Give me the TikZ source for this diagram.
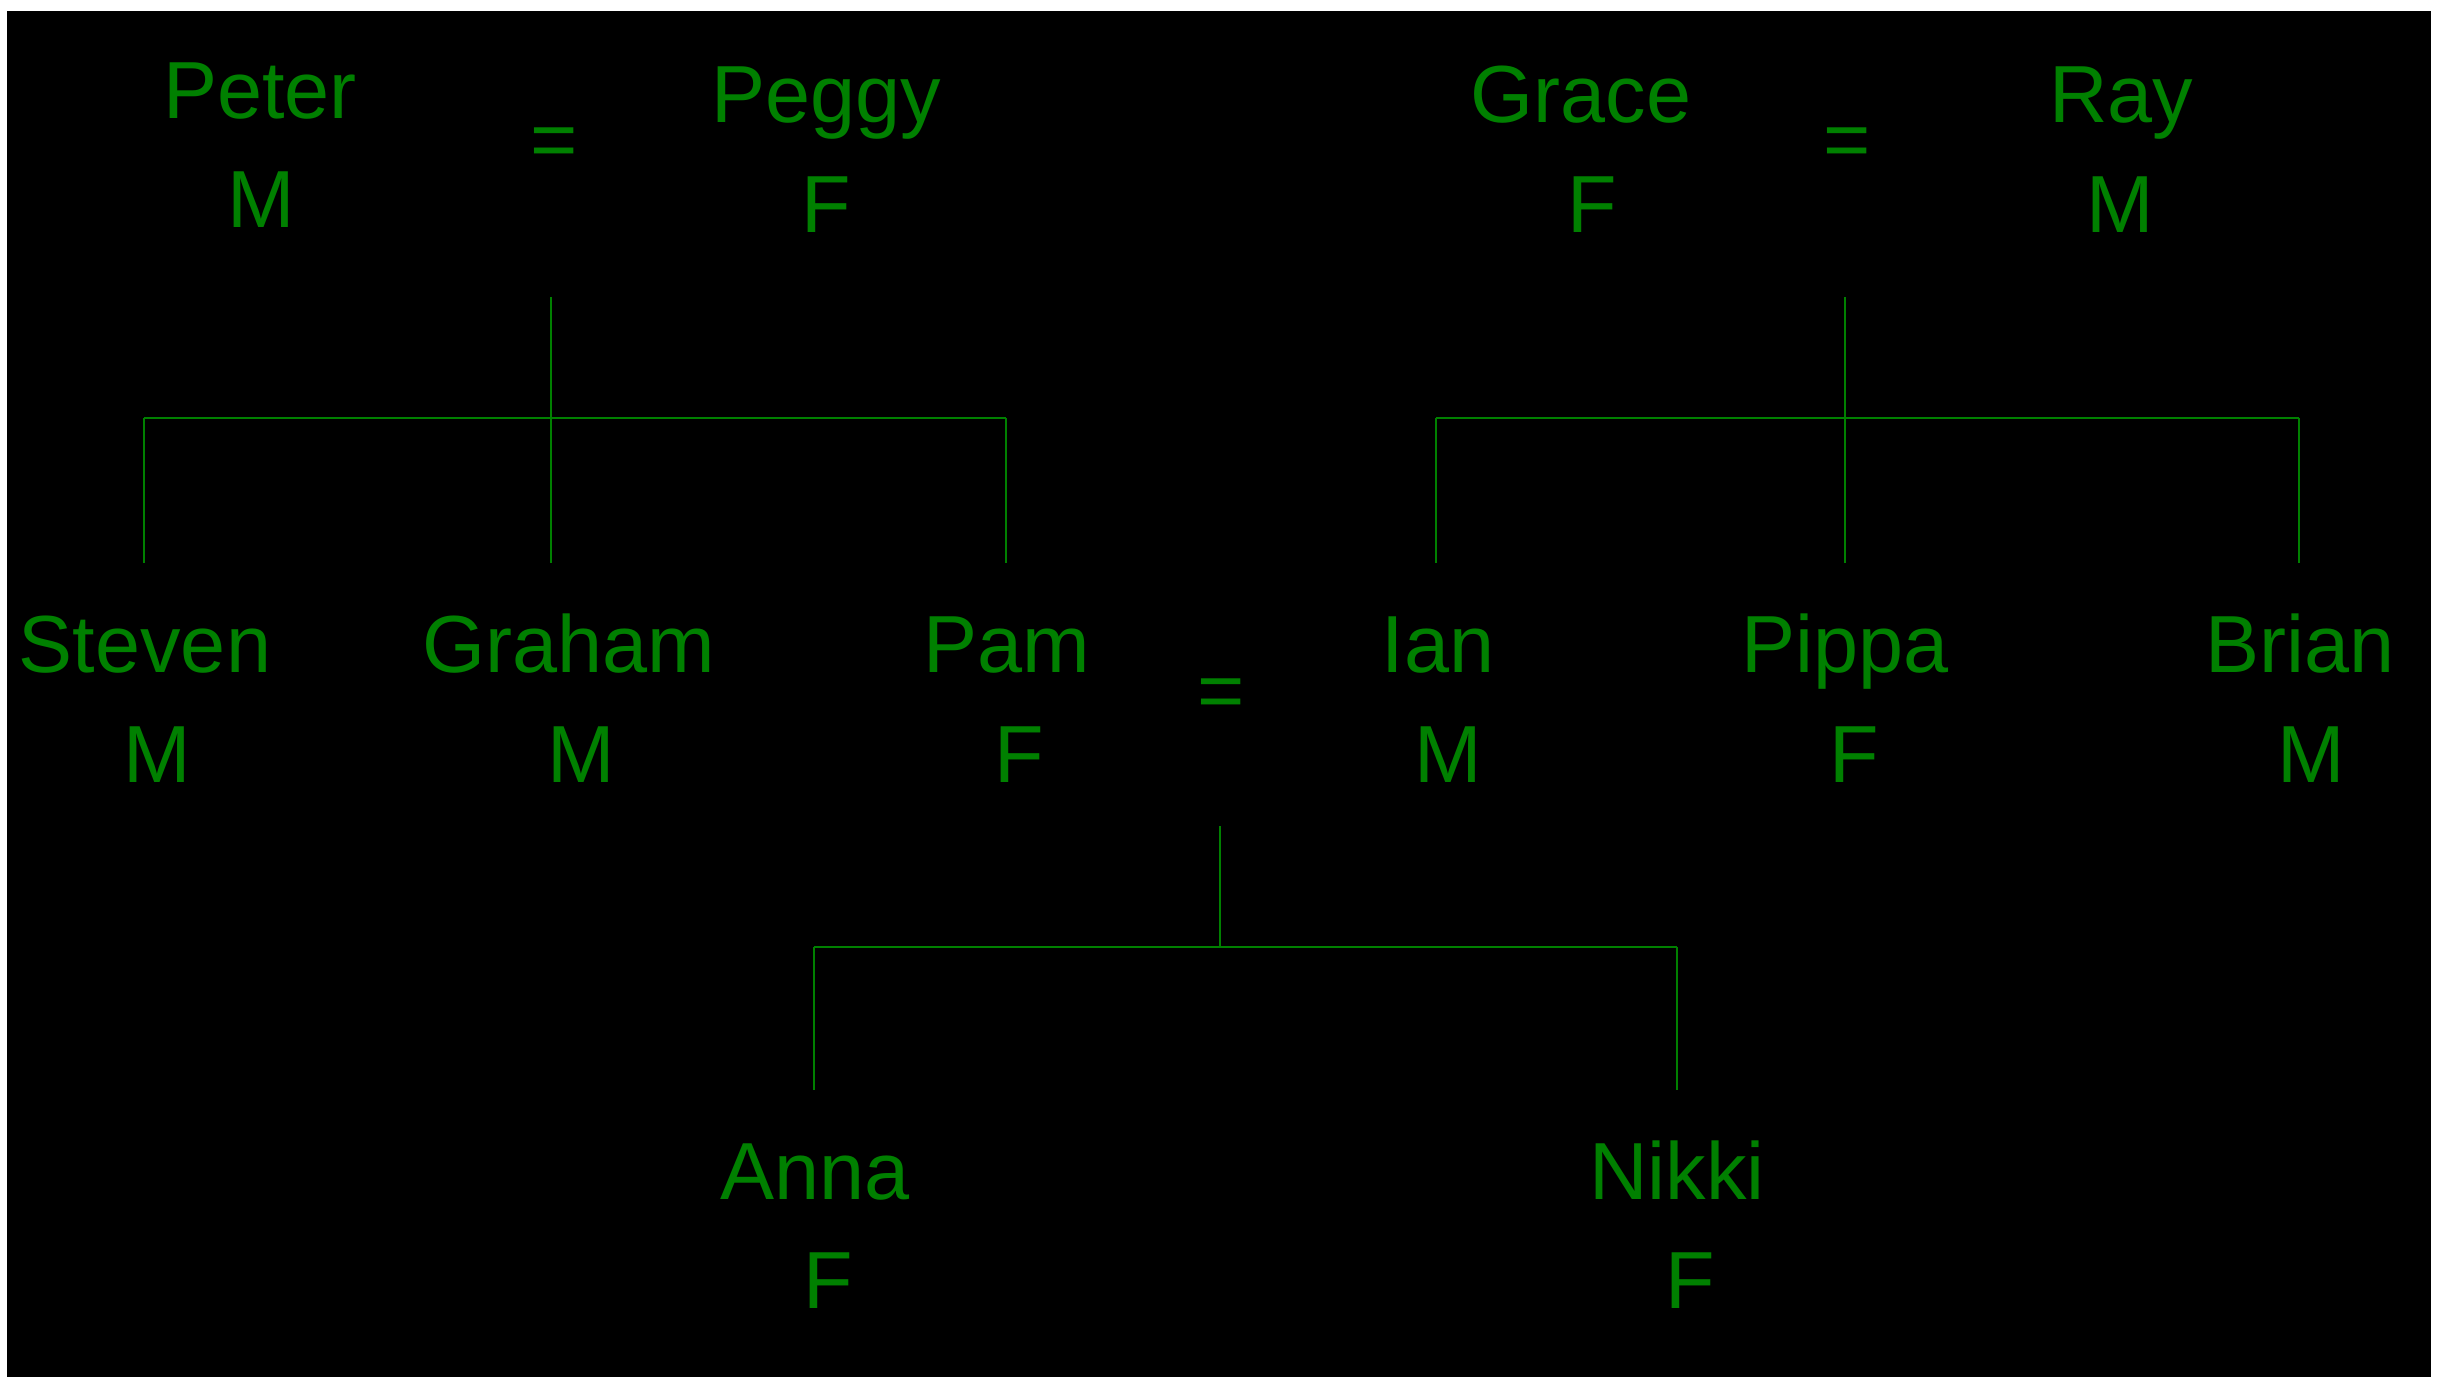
\documentclass[tikz,border=0pt]{standalone}
\usepackage{fontspec}
\setmainfont{Liberation Sans}
\definecolor{tgreen}{RGB}{0,128,0}
\tikzset{
  person/.style={anchor=base, inner sep=0pt, text=tgreen, font=\fontsize{81}{97}\selectfont},
  link/.style={draw=tgreen, line width=2.4pt}
}
\begin{document}
\begin{tikzpicture}[x=1pt,y=-1pt]
\useasboundingbox (0,0) rectangle (2446,1376);
\fill[white] (0,0) rectangle (2446,1376);
\fill[black] (7,11) rectangle (2431,1380);
% generation 1
\node[person] (peter)  at (260,118) {Peter};
\node[person] (peterg) at (261,227) {M};
\node[person] (eq1)    at (554,167) {=};
\node[person] (peggy)  at (826,122) {Peggy};
\node[person] (peggyg) at (826,232) {F};
\node[person] (grace)  at (1581,122) {Grace};
\node[person] (graceg) at (1592,232) {F};
\node[person] (eq2)    at (1847,167) {=};
\node[person] (ray)    at (2121,122) {Ray};
\node[person] (rayg)   at (2120,232) {M};
% generation 2
\node[person] (steven)  at (145,672) {Steven};
\node[person] (steveng) at (157,782) {M};
\node[person] (graham)  at (569,672) {Graham};
\node[person] (grahamg) at (581,782) {M};
\node[person] (pam)     at (1007,672) {Pam};
\node[person] (pamg)    at (1019,782) {F};
\node[person] (eq3)     at (1221,718) {=};
\node[person] (ian)     at (1438,672) {Ian};
\node[person] (iang)    at (1448,782) {M};
\node[person] (pippa)   at (1845,672) {Pippa};
\node[person] (pippag)  at (1854,782) {F};
\node[person] (brian)   at (2300,672) {Brian};
\node[person] (briang)  at (2311,782) {M};
% generation 3
\node[person] (anna)   at (815,1199) {Anna};
\node[person] (annag)  at (828,1308) {F};
\node[person] (nikki)  at (1677,1199) {Nikki};
\node[person] (nikkig) at (1690,1308) {F};
% junction coordinates
\coordinate (u1) at (551,297);
\coordinate (l1) at (144,418);
\coordinate (r1) at (1006,418);
\coordinate (u2) at (1845,297);
\coordinate (l2) at (1436,418);
\coordinate (r2) at (2299,418);
\coordinate (u3) at (1220,826);
\coordinate (b3) at (1220,947);
\coordinate (l3) at (814,947);
\coordinate (r3) at (1677,947);
% family 1
\draw[link] (u1) -- (u1 |- 0,563);
\draw[link] (l1) -- (r1);
\draw[link] (l1) -- (l1 |- 0,563);
\draw[link] (r1) -- (r1 |- 0,563);
% family 2
\draw[link] (u2) -- (u2 |- 0,563);
\draw[link] (l2) -- (r2);
\draw[link] (l2) -- (l2 |- 0,563);
\draw[link] (r2) -- (r2 |- 0,563);
% family 3
\draw[link] (u3) -- (b3);
\draw[link] (l3) -- (r3);
\draw[link] (l3) -- (l3 |- 0,1090);
\draw[link] (r3) -- (r3 |- 0,1090);
\end{tikzpicture}
\end{document}
